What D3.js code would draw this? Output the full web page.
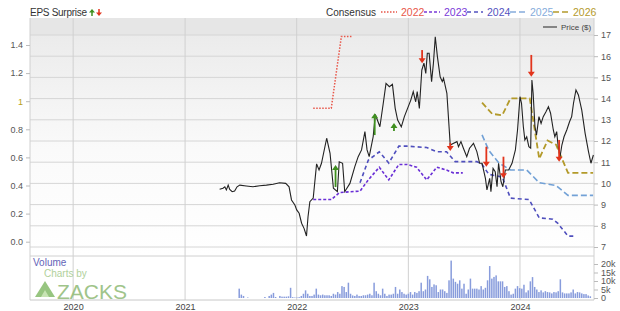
<!DOCTYPE html>
<html><head><meta charset="utf-8">
<script src="https://cdn.jsdelivr.net/npm/d3@7/dist/d3.min.js"></script>
<style>body{margin:0;background:#fff;}svg{display:block;font-family:"Liberation Sans",Arial,sans-serif;}</style>
</head><body><svg id="c" width="620" height="311"></svg>
<script>
// ---------- DATA ----------
const yearTicks = ["2020-01-01","2021-01-01","2022-01-01","2023-01-01","2024-01-01"];
const yearLabels = ["2020","2021","2022","2023","2024"];
const epsTicks = [0,0.2,0.4,0.6,0.8,1,1.2,1.4];
const epsTickLabels = ["0.0","0.2","0.4","0.6","0.8","1","1.2","1.4"];
const priceTicks = [7,8,9,10,11,12,13,14,15,16,17];
const volumeTicks = [0,5,10,15,20];
const volumeTickLabels = ["0","5k","10k","15k","20k"];

const priceDates = ["2021-04-24","2021-05-05","2021-05-11","2021-05-16","2021-05-22","2021-05-27","2021-06-04","2021-06-12","2021-06-20","2021-06-29","2021-07-20","2021-08-11","2021-09-02","2021-09-24","2021-10-16","2021-11-06","2021-11-26","2021-12-07","2021-12-15","2021-12-26",
"2022-01-01","2022-01-09","2022-01-17","2022-01-25","2022-02-02","2022-02-07","2022-02-13","2022-02-24","2022-03-07","2022-03-15","2022-03-23","2022-04-09","2022-04-20","2022-05-01","2022-05-14","2022-05-20","2022-05-31","2022-06-07","2022-06-24","2022-07-10","2022-07-21","2022-08-01","2022-08-12","2022-08-19","2022-08-26","2022-09-08","2022-09-15","2022-09-30","2022-10-11","2022-10-20","2022-10-31","2022-11-10","2022-11-19","2022-11-27","2022-12-09","2022-12-19",
"2023-01-09","2023-01-17","2023-01-25","2023-01-30","2023-02-06","2023-02-14","2023-02-21","2023-02-27","2023-03-04","2023-03-10","2023-03-18","2023-03-24","2023-03-30","2023-04-06","2023-04-15","2023-04-22","2023-04-26","2023-05-07","2023-05-18","2023-05-29","2023-06-09","2023-06-14","2023-06-22","2023-06-30","2023-07-11","2023-07-20","2023-08-02","2023-08-13","2023-08-22","2023-08-30","2023-09-10","2023-09-15","2023-09-24","2023-09-28","2023-10-05","2023-10-12","2023-10-18","2023-10-23","2023-10-31","2023-11-06","2023-11-14","2023-11-25","2023-12-06","2023-12-17","2023-12-24",
"2024-01-01","2024-01-06","2024-01-12","2024-01-17","2024-01-23","2024-01-30","2024-02-05","2024-02-09","2024-02-13","2024-02-19","2024-02-24","2024-03-03","2024-03-10","2024-03-17","2024-03-26","2024-04-03","2024-04-10","2024-04-19","2024-04-24","2024-04-30","2024-05-05","2024-05-11","2024-05-17","2024-05-24","2024-06-02","2024-06-11","2024-06-18","2024-06-24","2024-07-02","2024-07-10","2024-07-21","2024-08-01","2024-08-12","2024-08-20","2024-08-28"];
const priceValues = [9.72,9.77,9.84,9.69,9.92,9.72,9.61,9.64,9.84,9.92,9.88,9.84,9.89,9.92,9.96,10.03,10.0,9.84,9.22,8.98,
8.75,8.59,8.12,7.88,7.52,8.43,9.14,9.31,10.92,10.63,10.95,12.13,11.42,9.77,9.61,11.02,10.95,9.61,10.0,10.79,11.26,11.58,12.44,11.58,11.26,12.2,13.25,12.67,13.78,14.72,14.56,14.67,13.54,12.99,12.67,13.15,
13.93,14.33,13.85,14.33,13.54,15.35,15.67,15.19,16.14,16.14,14.8,15.67,16.92,15.98,15.03,14.8,14.96,14.25,11.81,11.89,11.97,11.73,11.97,11.66,11.26,11.66,11.89,11.5,10.95,10.95,10.24,9.69,10.24,9.61,10.71,10.55,9.84,10.95,10.08,9.84,10.63,10.63,10.95,11.58,12.52,
14.09,13.78,12.67,12.05,12.2,11.73,11.66,14.88,14.25,12.67,12.28,13.15,12.83,13.15,13.38,13.62,13.31,12.52,12.2,12.44,11.73,11.26,11.81,12.2,12.52,12.91,13.15,13.78,14.41,14.17,13.46,12.36,11.5,10.95,11.34];

const cons2022Dates = ["2022-02-24","2022-04-24","2022-05-27","2022-06-29"];
const cons2022Values = [0.95,0.95,1.46,1.46];
const cons2023Dates = ["2022-02-24","2022-04-24","2022-05-21","2022-07-27","2022-08-23","2022-09-28","2022-10-29","2022-12-01","2022-12-28","2023-01-28","2023-03-02","2023-04-04","2023-05-06","2023-05-28","2023-06-28"];
const cons2023Values = [0.30,0.30,0.35,0.36,0.44,0.53,0.44,0.55,0.55,0.53,0.44,0.53,0.51,0.49,0.49];
const cons2024Dates = ["2022-07-27","2022-08-23","2022-09-28","2022-10-29","2022-12-01","2022-12-28","2023-03-02","2023-04-04","2023-05-06","2023-06-03","2023-07-11","2023-08-13","2023-08-30","2023-09-21","2023-11-04","2023-12-01","2024-01-31","2024-03-04","2024-04-17","2024-05-04","2024-06-06","2024-07-03"];
const cons2024Values = [0.42,0.58,0.64,0.56,0.68,0.68,0.67,0.64,0.64,0.57,0.57,0.57,0.55,0.48,0.46,0.31,0.30,0.17,0.16,0.13,0.04,0.04];
const cons2025Dates = ["2023-08-30","2023-09-21","2023-10-24","2023-12-01","2024-01-23","2024-03-04","2024-04-28","2024-06-06","2024-08-27"];
const cons2025Values = [0.76,0.65,0.56,0.51,0.51,0.42,0.40,0.33,0.33];
const cons2026Dates = ["2023-08-30","2023-10-02","2023-11-04","2023-12-01","2024-02-02","2024-03-04","2024-03-31","2024-04-28","2024-06-06","2024-08-27"];
const cons2026Values = [0.99,0.91,0.90,1.02,1.02,0.59,0.72,0.69,0.49,0.49];

const surpriseDates = ["2022-05-08","2022-09-13","2022-11-15","2023-02-15","2023-05-18","2023-09-13","2023-11-08","2024-02-07","2024-05-08"];
const surpriseBeat = [true,true,true,false,false,false,false,false,false];
const surpriseFrom = [9.83,12.28,12.47,16.29,11.91,11.73,11.26,16.06,12.05];
const surpriseTo = [10.87,13.31,12.85,15.67,11.53,10.79,10.24,15.03,11.02];

const volumeStart = "2021-06-27";
const volumeValues = [5.5,2,1.2,0,0.3,0,0,0,0,0,0,0,0.6,0,1.2,2,3,0.6,0,1.2,0.8,0.8,0.8,1,6,0.5,0.3,
0.3,0.5,1.2,2.5,4.5,2.5,1.2,1.2,2,5.5,2,1.6,2,1.6,1.6,1.6,1.2,2.5,2,3.5,2.5,7,6.5,3.5,9,2.5,1.5,1.2,2,1.2,1.2,1.6,1.6,2,2.5,1.6,9,4,2.5,1.6,5.5,2.5,1.2,2,2,2.5,6.5,2.5,5,3.5,2.5,2,2.5,
3.5,2,3.5,3,4,9,4,5,13,11,6.5,8,7.5,3.5,5,5,4,3,10.4,22,11.4,9.5,8.4,10.4,5.5,8.4,2.5,5,11.4,5.5,5.5,5.5,5,7,5,6,10.4,18.8,11.4,12.4,13.3,9.8,9.8,9.8,6.5,7,4,2,2.5,5.5,7,5.8,
5.5,7.8,3.3,4.5,9.8,12.3,6.5,5,3.5,4.5,3.3,4,3.5,3.3,2.7,3.5,3.3,4,11,3.3,2.7,2.7,2.7,3.3,5,2.7,3.5,3.3,2.7,2.3,2.3,1.5,1];

const legendYears = ["2022","2023","2024","2025","2026"];
const legendColors = ["#e8574a","#7a3ad8","#5353c0","#86acdb","#b49a2c"];

// ---------- CHART ----------
const P = d3.timeParse("%Y-%m-%d");
const svg = d3.select("#c");
const L = 30, R = 594, TOP = 18, PB = 256, VT = 256, VB = 300;
const x = d3.scaleTime().domain([P("2019-08-13"), P("2024-08-30")]).range([L, R]);
const yP = d3.scaleLinear().domain([7,17]).range([247,35]);
const yE = d3.scaleLinear().domain([0,1.4]).range([241.7,45]);
const yV = d3.scaleLinear().domain([0,20]).range([298,264]);

const defs = svg.append("defs");
const g1 = defs.append("linearGradient").attr("id","bg").attr("x1",0).attr("y1",0).attr("x2",0).attr("y2",1);
g1.append("stop").attr("offset","0%").attr("stop-color","#e9e9e9");
g1.append("stop").attr("offset","55%").attr("stop-color","#fafafa");
g1.append("stop").attr("offset","100%").attr("stop-color","#ffffff");

svg.append("rect").attr("x",L).attr("y",TOP).attr("width",R-L).attr("height",PB-TOP).attr("fill","url(#bg)");
svg.append("rect").attr("x",L).attr("y",TOP).attr("width",R-L).attr("height",17).attr("fill","#e6e6e6");

// horizontal grid
svg.append("g").selectAll("line").data(priceTicks).join("line")
  .attr("x1",L).attr("x2",R).attr("y1",d=>yP(d)).attr("y2",d=>yP(d))
  .attr("stroke","#d6d6d6").attr("stroke-width",1);
// vertical grid
svg.append("g").selectAll("line").data(yearTicks).join("line")
  .attr("x1",d=>x(P(d))).attr("x2",d=>x(P(d))).attr("y1",TOP).attr("y2",VB)
  .attr("stroke","#d0d0d0").attr("stroke-width",1);
// frame
svg.append("line").attr("x1",L).attr("x2",L).attr("y1",TOP).attr("y2",VB).attr("stroke","#d0d0d0");
svg.append("line").attr("x1",R).attr("x2",R).attr("y1",TOP).attr("y2",VB).attr("stroke","#d0d0d0");
svg.append("line").attr("x1",L).attr("x2",R).attr("y1",VT).attr("y2",VT).attr("stroke","#d0d0d0");
svg.append("line").attr("x1",L).attr("x2",R).attr("y1",VB).attr("y2",VB).attr("stroke","#c8c8c8");

// left axis
const la = svg.append("g").attr("transform",`translate(${L},0)`)
  .call(d3.axisLeft(yE).tickValues(epsTicks).tickSize(4).tickFormat((d,i)=>epsTickLabels[i]));
la.select(".domain").remove();
la.selectAll("line").attr("stroke","#bbb");
la.selectAll("text").attr("fill",(d)=>d===1?"#b8a020":"#555").style("font-size","9px").style("font-family","Liberation Sans, Arial");

// right price axis
const ra = svg.append("g").attr("transform",`translate(${R},0)`)
  .call(d3.axisRight(yP).tickValues(priceTicks).tickSize(4).tickFormat(d3.format("d")));
ra.select(".domain").remove();
ra.selectAll("line").attr("stroke","#bbb");
ra.selectAll("text").attr("fill","#555").style("font-size","9px").style("font-family","Liberation Sans, Arial");

// right volume axis
const va = svg.append("g").attr("transform",`translate(${R},0)`)
  .call(d3.axisRight(yV).tickValues(volumeTicks).tickSize(4).tickFormat((d,i)=>volumeTickLabels[i]));
va.select(".domain").remove();
va.selectAll("line").attr("stroke","#bbb");
va.selectAll("text").attr("fill","#555").style("font-size","9px").style("font-family","Liberation Sans, Arial");

// bottom axis labels
const ba = svg.append("g").attr("transform",`translate(0,${VB})`)
  .call(d3.axisBottom(x).tickValues(yearTicks.map(P)).tickSize(0).tickPadding(4).tickFormat((d,i)=>yearLabels[i]));
ba.select(".domain").remove();
ba.selectAll("text").attr("fill","#444").style("font-size","9px").style("font-family","Liberation Sans, Arial");

// volume bars
const v0 = P(volumeStart);
svg.append("g").selectAll("rect").data(volumeValues).join("rect")
  .attr("x",(d,i)=>x(d3.timeWeek.offset(v0,i))-0.75).attr("width",1.5)
  .attr("y",d=>yV(d)).attr("height",d=>yV(0)-yV(d))
  .attr("fill","#889cdc");

// Volume label + logo
svg.append("text").attr("x",33).attr("y",266).text("Volume").attr("fill","#6464b8").style("font-size","10px");
const logo = svg.append("g").attr("opacity",0.85);
logo.append("text").attr("x",44).attr("y",276.5).text("Charts by").attr("fill","#a3c98a").style("font-size","10px");
logo.append("path").attr("d","M35,297 L45,281 L55,297 Z").attr("fill","#86bb6a");
logo.append("path").attr("d","M41,297 L45,290 L49,297 Z").attr("fill","#bfe0a8");
logo.append("text").attr("x",57).attr("y",298.5).text("ZACKS").attr("fill","#8fba76").style("font-size","21px").attr("textLength",70);

// consensus lines
const lineE = d3.line().x(d=>x(d[0])).y(d=>yE(d[1]));
function cons(dates, vals, color, dash, w){
  svg.append("path").datum(dates.map((d,i)=>[P(d),vals[i]]))
    .attr("d",lineE).attr("fill","none").attr("stroke",color).attr("stroke-width",w).attr("stroke-dasharray",dash);
}
cons(cons2022Dates,cons2022Values,"#e8574a","1.5,1.5",1.5);
cons(cons2023Dates,cons2023Values,"#6a2fd6","3,2",1.6);
cons(cons2024Dates,cons2024Values,"#4f4fbd","4,3",1.6);
cons(cons2025Dates,cons2025Values,"#72a1d6","6,3",1.6);
cons(cons2026Dates,cons2026Values,"#b39a2a","6,3",1.8);

// price line
const lineP = d3.line().x(d=>x(d[0])).y(d=>yP(d[1]));
svg.append("path").datum(priceDates.map((d,i)=>[P(d),priceValues[i]]))
  .attr("d",lineP).attr("fill","none").attr("stroke","#222").attr("stroke-width",1.1);

// surprise arrows
const ag = svg.append("g");
surpriseDates.forEach((d,i)=>{
  const cx = x(P(d)), y1 = yP(surpriseFrom[i]), y2 = yP(surpriseTo[i]);
  const col = surpriseBeat[i] ? "#3f8f1f" : "#e2341c";
  const dir = y2 < y1 ? -1 : 1;
  ag.append("line").attr("x1",cx).attr("x2",cx).attr("y1",y1).attr("y2",y2-dir*4).attr("stroke",col).attr("stroke-width",1.8);
  ag.append("path").attr("d",`M${cx-3.5},${y2-dir*5} L${cx+3.5},${y2-dir*5} L${cx},${y2} Z`).attr("fill",col);
});

// header
svg.append("text").attr("x",30).attr("y",16).text("EPS Surprise").attr("fill","#333").style("font-size","10px").attr("textLength",57);
function legArrow(cx, up, col){
  const t = 9, b = 16;
  if(up){
    svg.append("line").attr("x1",cx).attr("x2",cx).attr("y1",12).attr("y2",b).attr("stroke",col).attr("stroke-width",1.5);
    svg.append("path").attr("d",`M${cx-3},${12.5} L${cx+3},${12.5} L${cx},${t} Z`).attr("fill",col);
  } else {
    svg.append("line").attr("x1",cx).attr("x2",cx).attr("y1",t).attr("y2",13).attr("stroke",col).attr("stroke-width",1.5);
    svg.append("path").attr("d",`M${cx-3},${12.5} L${cx+3},${12.5} L${cx},${b} Z`).attr("fill",col);
  }
}
legArrow(92,true,"#3f8f1f");
legArrow(99,false,"#e2341c");

svg.append("text").attr("x",326).attr("y",16).text("Consensus").attr("fill","#333").style("font-size","10px").attr("textLength",50);
const legDash = ["1.5,1.5","3,2","4,3","6,3","6,3"];
legendYears.forEach((yr,i)=>{
  const x0 = 381 + i*43;
  svg.append("line").attr("x1",x0).attr("x2",x0+16).attr("y1",12).attr("y2",12)
    .attr("stroke",legendColors[i]).attr("stroke-width",1.6).attr("stroke-dasharray",legDash[i]);
  svg.append("text").attr("x",x0+20).attr("y",16).text(yr).attr("fill",legendColors[i]).style("font-size","10.5px");
});

// price legend
svg.append("line").attr("x1",543).attr("x2",557).attr("y1",27).attr("y2",27).attr("stroke","#444").attr("stroke-width",1.2);
svg.append("text").attr("x",561).attr("y",30).text("Price ($)").attr("fill","#444").style("font-size","8px");
</script></body></html>
